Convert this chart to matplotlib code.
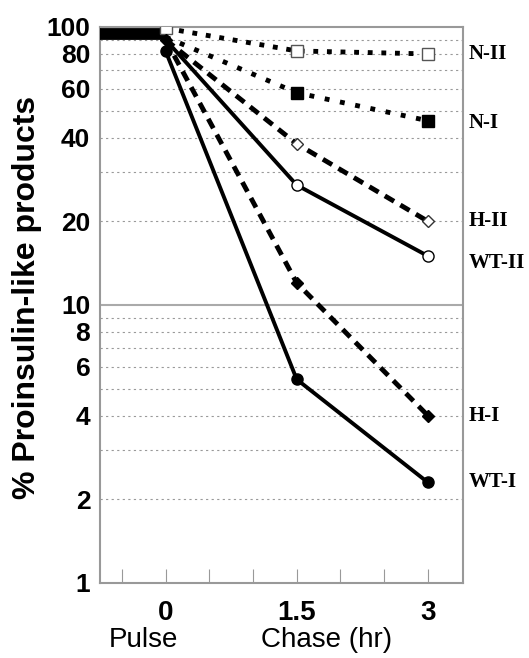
import numpy as np
import matplotlib
matplotlib.use('Agg')
import matplotlib.pyplot as plt

# chase time points (hr)
times = [0, 1.5, 3]

# % proinsulin-like products for each construct
wt_i = [82, 5.4, 2.3]
wt_ii = [90, 27, 15]
h_i = [90, 12, 4]
h_ii = [90, 38, 20]
n_i = [92, 58, 46]
n_ii = [99, 82, 80]

# pulse period
pulse_x = [-0.75, 0]
pulse_y = [94, 94]

y_ticks = [1, 2, 4, 6, 8, 10, 20, 40, 60, 80, 100]
grid_vals = [2, 3, 4, 5, 6, 7, 8, 9, 20, 30, 40, 50, 60, 70, 80, 90]

fig = plt.figure(figsize=(5.29, 6.58), dpi=100)
ax = fig.add_axes([0.189, 0.114, 0.686, 0.845])
ax.set_yscale('log')
ax.set_ylim(1, 100)
ax.set_xlim(-0.75, 3.4)

for g in grid_vals:
    ax.axhline(g, color='#999999', lw=0.8, ls=(0, (2, 3)), zorder=1)
ax.axhline(10, color='#aaaaaa', lw=1.5, zorder=1)

ax.plot(pulse_x, pulse_y, color='black', lw=8.5, solid_capstyle='butt', zorder=3)

ax.plot(times, n_ii, color='black', lw=3.5, ls=(0, (1, 1.8)), marker='s', ms=9,
        mfc='white', mec='#555555', mew=1, zorder=4)
ax.plot(times, n_i, color='black', lw=3.5, ls=(0, (1, 2.2)), marker='s', ms=9,
        mfc='black', mec='black', markevery=[1, 2], zorder=4)
ax.plot(times, h_ii, color='black', lw=3.5, ls=(0, (2.2, 1.5)), marker='D', ms=6,
        mfc='white', mec='#333333', mew=1, markevery=[1, 2], zorder=4)
ax.plot(times, h_i, color='black', lw=3.5, ls=(0, (2.2, 1.5)), marker='D', ms=6,
        mfc='black', mec='black', zorder=4)
ax.plot(times, wt_ii, color='black', lw=2.8, marker='o', ms=8,
        mfc='white', mec='black', mew=1, markevery=[1, 2], zorder=4)
ax.plot(times, wt_i, color='black', lw=2.8, marker='o', ms=8,
        mfc='black', mec='black', zorder=4)

# series labels at right
labels = ['N-II', 'N-I', 'H-II', 'WT-II', 'H-I', 'WT-I']
label_y = [80, 45, 20, 14.2, 4, 2.3]
for lab, yv in zip(labels, label_y):
    ax.text(1.017, yv, lab, transform=ax.get_yaxis_transform(), fontsize=15,
            fontweight='bold', family='Liberation Serif', va='center', ha='left')

ax.set_yticks(y_ticks)
ax.set_yticklabels([str(v) for v in y_ticks])
ax.yaxis.set_minor_locator(matplotlib.ticker.NullLocator())
ax.tick_params(axis='y', length=0, pad=7, labelsize=19)
for t in ax.get_yticklabels():
    t.set_fontweight('bold')
    t.set_family('Liberation Sans')

ax.set_xticks([-0.5, 0, 0.5, 1, 1.5, 2, 2.5, 3])
ax.set_xticklabels(['', '0', '', '', '1.5', '', '', '3'])
ax.tick_params(axis='x', direction='in', length=10, color='#999999', pad=12, labelsize=20)
for t in ax.get_xticklabels():
    t.set_fontweight('bold')
    t.set_family('Liberation Sans')

for s in ax.spines.values():
    s.set_color('#999999')
    s.set_linewidth(1.5)

ax.text(-0.25, -0.103, 'Pulse', transform=ax.get_xaxis_transform(), ha='center', va='center',
        fontsize=20, family='Liberation Sans')
ax.text(1.84, -0.103, 'Chase (hr)', transform=ax.get_xaxis_transform(), ha='center', va='center',
        fontsize=20, family='Liberation Sans')

fig.text(27 / 529, 0.548, '% Proinsulin-like products', rotation=90, ha='center', va='center',
         fontsize=23, fontweight='bold', family='Liberation Sans')

fig.savefig('out.png', dpi=100)
